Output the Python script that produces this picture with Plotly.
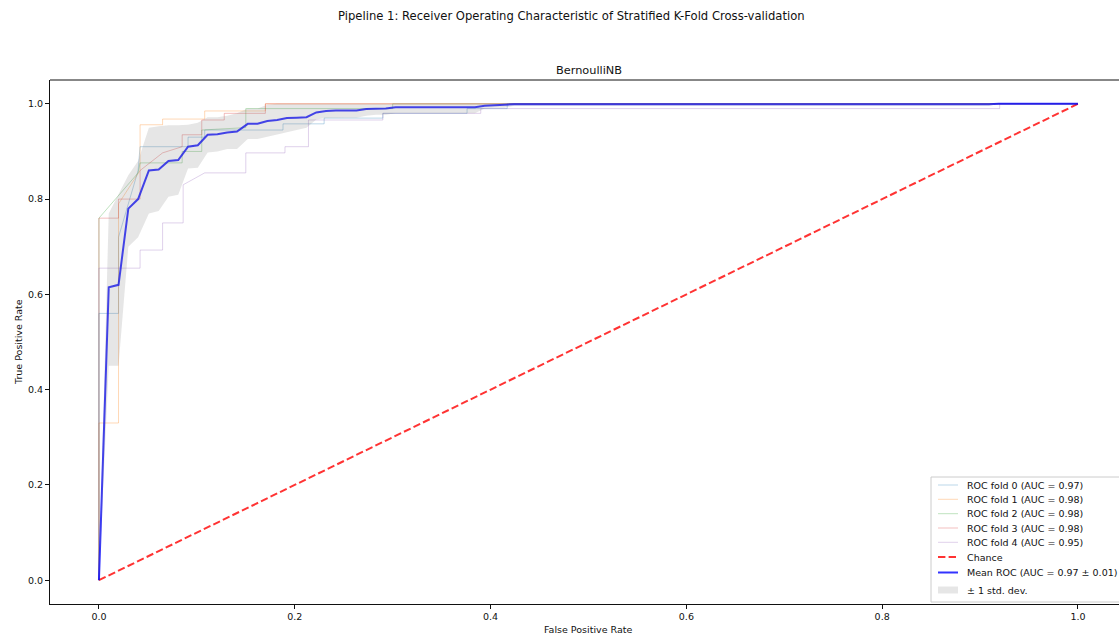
import plotly.graph_objects as go

# ---- data ----
fold_names = ["ROC fold 0 (AUC = 0.97)", "ROC fold 1 (AUC = 0.98)", "ROC fold 2 (AUC = 0.98)",
              "ROC fold 3 (AUC = 0.98)", "ROC fold 4 (AUC = 0.95)"]
fold_colors = ["rgba(31,119,180,0.3)", "rgba(255,127,14,0.3)", "rgba(44,160,44,0.3)",
               "rgba(214,39,40,0.3)", "rgba(148,103,189,0.3)"]

fold0_fpr = [0.0, 0.0, 0.020, 0.020, 0.040, 0.042, 0.091, 0.091, 0.108, 0.108, 0.188, 0.188, 0.230, 0.230, 0.290, 0.290, 0.376, 0.376, 0.417, 0.417, 1.0]
fold0_tpr = [0.0, 0.56, 0.56, 0.72, 0.86, 0.91, 0.91, 0.93, 0.93, 0.945, 0.945, 0.958, 0.958, 0.97, 0.97, 0.98, 0.98, 0.99, 0.99, 1.0, 1.0]

fold1_fpr = [0.0, 0.0, 0.020, 0.020, 0.042, 0.042, 0.065, 0.065, 0.108, 0.108, 0.170, 0.170, 1.0]
fold1_tpr = [0.0, 0.33, 0.33, 0.79, 0.86, 0.956, 0.956, 0.968, 0.968, 0.985, 0.985, 1.0, 1.0]

fold2_fpr = [0.0, 0.0, 0.040, 0.042, 0.085, 0.085, 0.105, 0.105, 0.150, 0.150, 0.300, 0.300, 1.0]
fold2_tpr = [0.0, 0.76, 0.855, 0.876, 0.876, 0.90, 0.90, 0.945, 0.95, 0.99, 0.99, 1.0, 1.0]

fold3_fpr = [0.0, 0.0, 0.020, 0.020, 0.042, 0.042, 0.065, 0.085, 0.085, 0.105, 0.105, 0.128, 0.128, 0.170, 0.170, 1.0]
fold3_tpr = [0.0, 0.76, 0.76, 0.80, 0.80, 0.86, 0.897, 0.91, 0.935, 0.935, 0.966, 0.966, 0.98, 0.98, 1.0, 1.0]

fold4_fpr = [0.0, 0.0, 0.042, 0.042, 0.065, 0.065, 0.086, 0.086, 0.108, 0.150, 0.150, 0.190, 0.190, 0.214, 0.214, 0.290, 0.290, 0.390, 0.390, 0.920, 0.920, 1.0]
fold4_tpr = [0.0, 0.655, 0.655, 0.693, 0.693, 0.75, 0.75, 0.83, 0.855, 0.855, 0.897, 0.897, 0.91, 0.91, 0.966, 0.966, 0.98, 0.98, 0.99, 0.99, 1.0, 1.0]

chance_x = [0.0, 1.0]
chance_y = [0.0, 1.0]

mean_fpr = [0.0, 0.010, 0.020, 0.030, 0.040, 0.051, 0.061, 0.071, 0.081, 0.091, 0.101, 0.111, 0.121, 0.131,
            0.141, 0.152, 0.162, 0.172, 0.182, 0.192, 0.202, 0.212, 0.222, 0.232, 0.242, 0.253, 0.263, 0.273,
            0.283, 0.293, 0.303, 0.374, 0.384, 0.394, 0.404, 0.414, 0.424, 0.909, 0.919, 1.0]
mean_tpr = [0.0, 0.615, 0.620, 0.780, 0.800, 0.860, 0.862, 0.880, 0.882, 0.910, 0.913, 0.935, 0.936, 0.940,
            0.942, 0.958, 0.958, 0.964, 0.966, 0.970, 0.971, 0.972, 0.982, 0.985, 0.986, 0.986, 0.986, 0.989,
            0.990, 0.990, 0.993, 0.993, 0.993, 0.996, 0.997, 0.997, 0.999, 0.999, 1.0, 1.0]
tpr_upper = [0.0, 0.77, 0.81, 0.85, 0.88, 0.95, 0.953, 0.955, 0.955, 0.956, 0.96, 0.972, 0.972, 0.975,
             0.98, 0.99, 0.99, 0.998, 1.0, 1.0, 1.0, 1.0, 1.0, 1.0, 1.0, 1.0, 1.0, 1.0,
             1.0, 1.0, 1.0, 1.0, 1.0, 1.0, 1.0, 1.0, 1.0, 1.0, 1.0, 1.0]
tpr_lower = [0.0, 0.45, 0.45, 0.70, 0.72, 0.77, 0.775, 0.805, 0.809, 0.864, 0.866, 0.898, 0.90, 0.905,
             0.905, 0.926, 0.926, 0.93, 0.935, 0.94, 0.945, 0.95, 0.967, 0.97, 0.971, 0.971, 0.971, 0.975,
             0.977, 0.977, 0.98, 0.98, 0.98, 0.99, 0.992, 0.992, 0.996, 0.996, 1.0, 1.0]

tick_vals = [0.0, 0.2, 0.4, 0.6, 0.8, 1.0]
tick_text = ["0.0", "0.2", "0.4", "0.6", "0.8", "1.0"]

FONT = "DejaVu Sans"
INK = "#111"
FS_SMALL = 9.5
FS_TITLE = 11.3
FS_SUPTITLE = 11.6

W, H = 1119, 634
ML, MT, MB = 50, 80, 30
PW = 1069          # plot width in px (right spine falls just past the window)
PH = H - MT - MB


def px_x(p):
    return (p - ML) / PW


def px_y(p):
    return (H - MB - p) / PH


fig = go.Figure()
folds = [(fold0_fpr, fold0_tpr), (fold1_fpr, fold1_tpr), (fold2_fpr, fold2_tpr),
         (fold3_fpr, fold3_tpr), (fold4_fpr, fold4_tpr)]
for (fx, fy), nm, col in zip(folds, fold_names, fold_colors):
    fig.add_trace(go.Scatter(x=fx, y=fy, mode="lines", name=nm,
                             line=dict(color=col, width=1)))

fig.add_trace(go.Scatter(x=chance_x, y=chance_y, mode="lines", name="Chance",
                         line=dict(color="rgba(255,0,0,0.8)", width=2, dash="7.4px,3.2px")))
fig.add_trace(go.Scatter(x=mean_fpr, y=mean_tpr, mode="lines", name="Mean ROC (AUC = 0.97 ± 0.01)",
                         line=dict(color="rgba(0,0,255,0.8)", width=2)))
fig.add_trace(go.Scatter(x=mean_fpr + mean_fpr[::-1], y=tpr_upper + tpr_lower[::-1],
                         mode="lines", fill="toself", fillcolor="rgba(128,128,128,0.2)",
                         line=dict(width=0, color="rgba(128,128,128,0)"), name="± 1 std. dev."))

axis_common = dict(showgrid=False, zeroline=False, showline=True, linecolor=INK, linewidth=1,
                   ticks="outside", ticklen=4, tickwidth=1, tickcolor=INK,
                   tickvals=tick_vals, ticktext=tick_text,
                   tickfont=dict(family=FONT, size=FS_SMALL, color=INK))
fig.update_xaxes(range=[-0.05, 1.0419], **axis_common)
fig.update_yaxes(range=[-0.05, 1.05], **axis_common)

# ---- legend drawn as a box in the lower right (matplotlib-like spacing) ----
legend_labels = fold_names + ["Chance", "Mean ROC (AUC = 0.97 ± 0.01)", "± 1 std. dev."]
legend_colors = fold_colors + ["rgba(255,0,0,0.8)", "rgba(0,0,255,0.8)", "rgba(128,128,128,0.2)"]
legend_rows_px = [485, 499.3, 513.7, 528, 542.3, 557, 572.5, 590]

shapes = [dict(type="line", xref="paper", yref="paper", x0=0, x1=1, y0=1, y1=1,
               line=dict(color=INK, width=1)),
          dict(type="rect", xref="paper", yref="paper", x0=px_x(931), x1=px_x(1125),
               y0=px_y(602), y1=px_y(477), fillcolor="rgba(255,255,255,0.8)",
               line=dict(color="#cccccc", width=1), layer="above")]
annotations = []
for i, (lab, col, ry) in enumerate(zip(legend_labels, legend_colors, legend_rows_px)):
    if i < 5:
        shapes.append(dict(type="line", xref="paper", yref="paper", x0=px_x(938), x1=px_x(958),
                           y0=px_y(ry), y1=px_y(ry), line=dict(color=col, width=1), layer="above"))
    elif i == 5:
        shapes.append(dict(type="line", xref="paper", yref="paper", x0=px_x(938), x1=px_x(958),
                           y0=px_y(ry), y1=px_y(ry), line=dict(color=col, width=2, dash="7.4px,3.2px"),
                           layer="above"))
    elif i == 6:
        shapes.append(dict(type="line", xref="paper", yref="paper", x0=px_x(938), x1=px_x(958),
                           y0=px_y(ry), y1=px_y(ry), line=dict(color=col, width=2), layer="above"))
    else:
        shapes.append(dict(type="rect", xref="paper", yref="paper", x0=px_x(938), x1=px_x(958),
                           y0=px_y(ry + 3.5), y1=px_y(ry - 3.5), fillcolor=col,
                           line=dict(width=0), layer="above"))
    annotations.append(dict(text=lab, xref="paper", yref="paper", x=px_x(965),
                            y=px_y(ry), xanchor="left", yanchor="middle", showarrow=False,
                            font=dict(family=FONT, size=FS_SMALL, color=INK)))

annotations += [
    dict(text="Pipeline 1: Receiver Operating Characteristic of Stratified K-Fold Cross-validation",
         xref="paper", yref="paper", x=px_x(571), y=px_y(16), xanchor="center", yanchor="middle",
         showarrow=False, font=dict(family=FONT, size=FS_SUPTITLE, color=INK)),
    dict(text="BernoulliNB", xref="paper", yref="paper", x=px_x(589), y=px_y(70),
         xanchor="center", yanchor="middle", showarrow=False,
         font=dict(family=FONT, size=FS_TITLE, color=INK)),
    dict(text="False Positive Rate", xref="paper", yref="paper", x=px_x(588), y=px_y(629),
         xanchor="center", yanchor="middle", showarrow=False,
         font=dict(family=FONT, size=FS_SMALL, color=INK)),
    dict(text="True Positive Rate", xref="paper", yref="paper", x=px_x(18), y=0.5,
         xanchor="center", yanchor="middle", showarrow=False, textangle=-90,
         font=dict(family=FONT, size=FS_SMALL, color=INK)),
]

fig.update_layout(
    width=W, height=H,
    margin=dict(l=ML, r=W - ML - PW, t=MT, b=MB, autoexpand=False),
    plot_bgcolor="white", paper_bgcolor="white",
    showlegend=False,
    shapes=shapes,
    annotations=annotations,
)

fig.write_html("out.html", config={"displayModeBar": False},
               post_script="document.body.style.margin='0';document.body.style.overflow='hidden';")
